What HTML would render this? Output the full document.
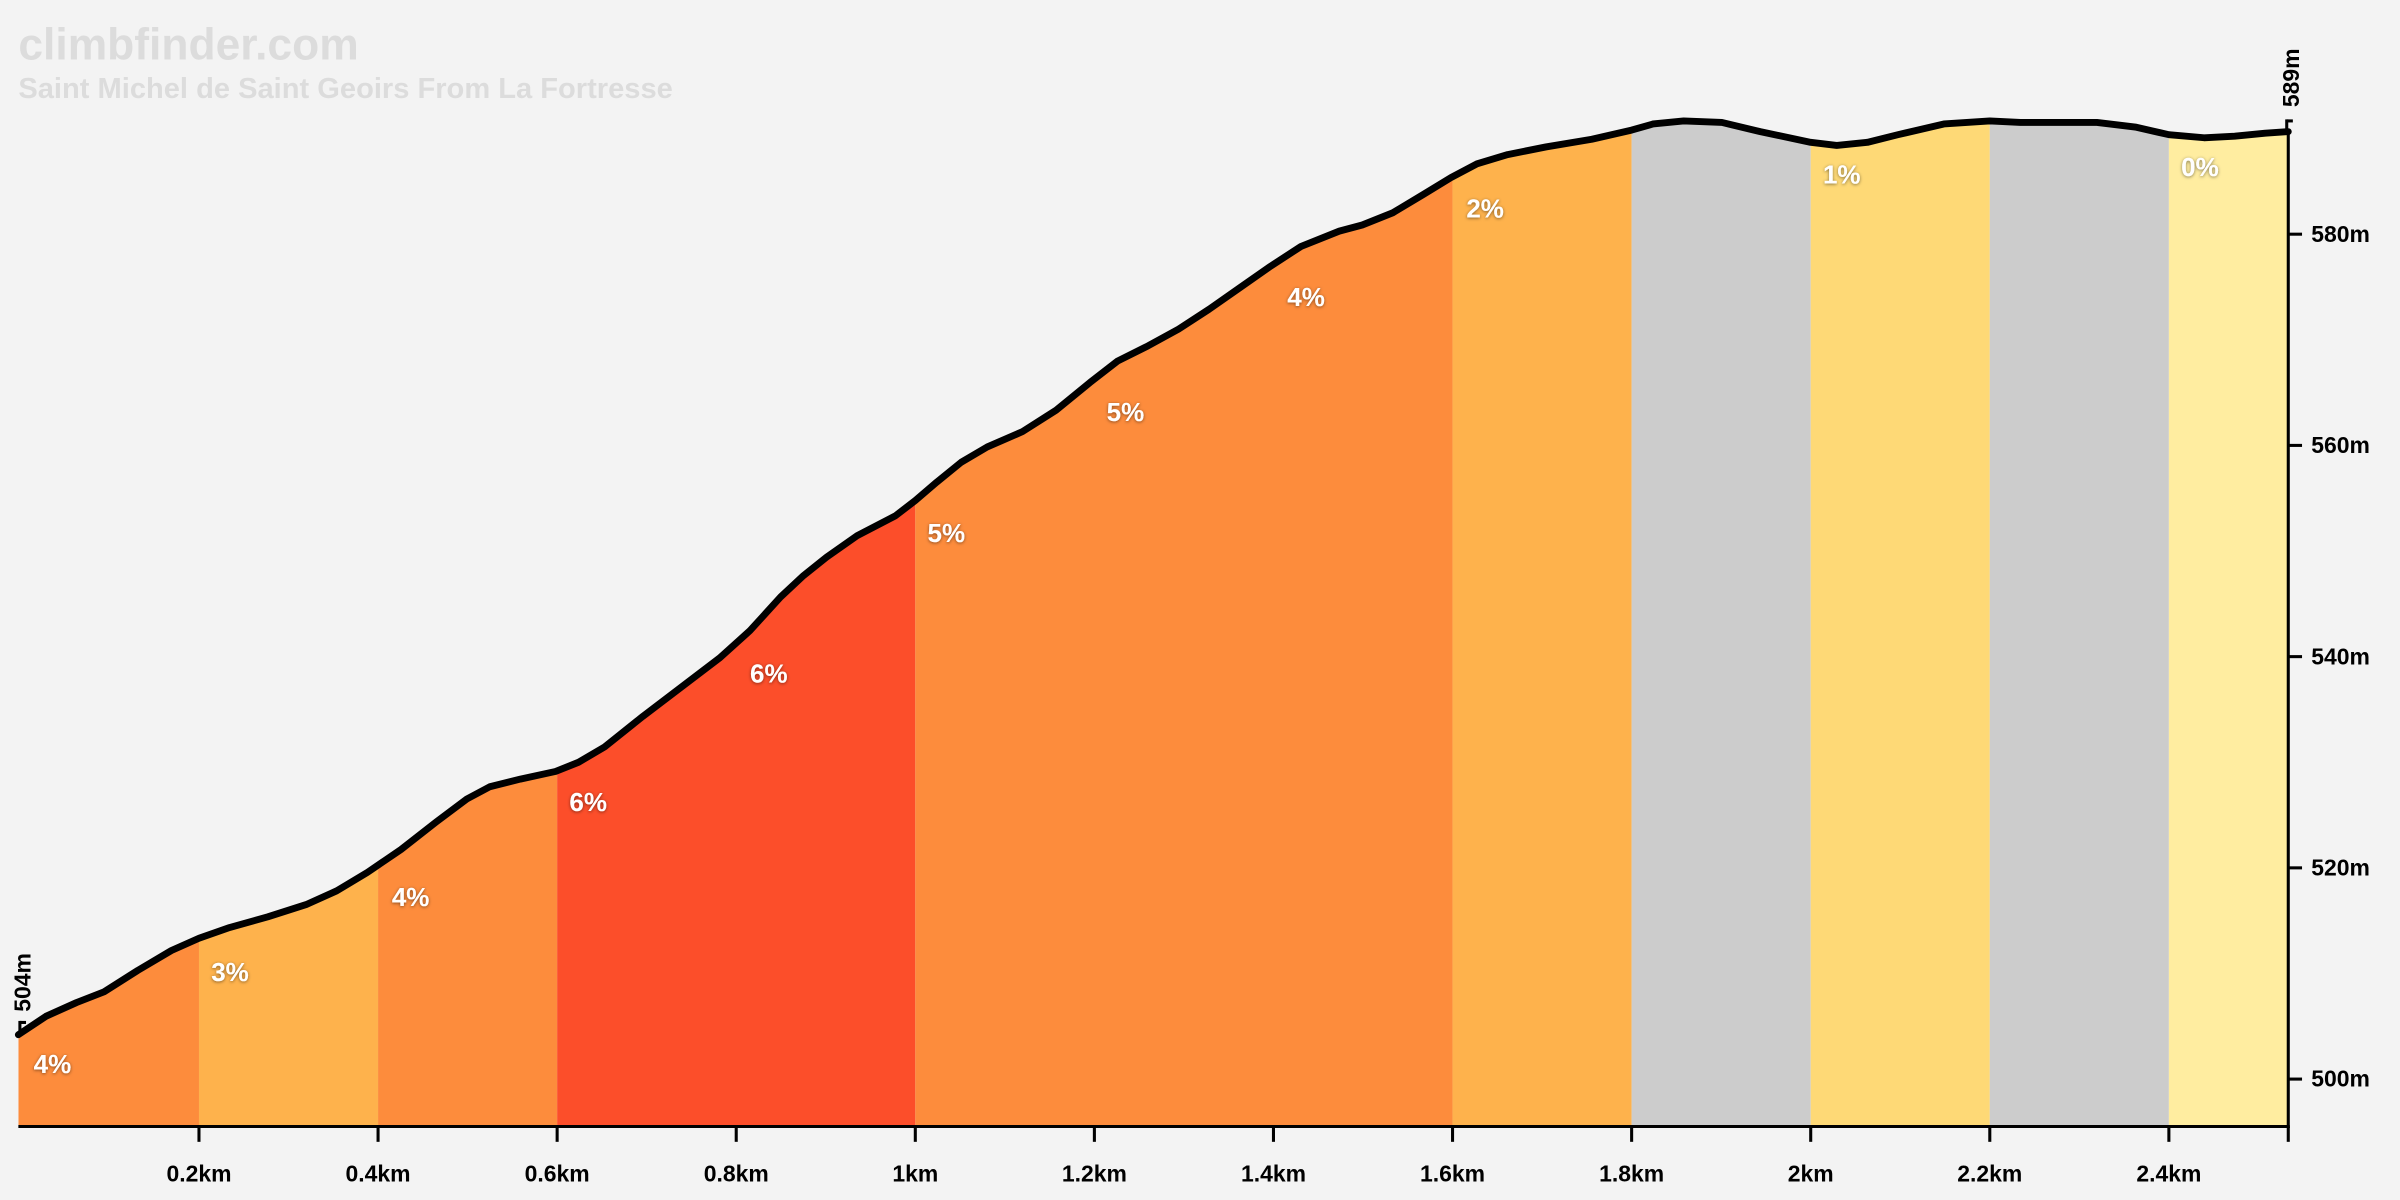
<!DOCTYPE html>
<html><head><meta charset="utf-8"><style>
html,body{margin:0;padding:0;background:#f3f3f3;}
svg{display:block}
text{font-family:"Liberation Sans","DejaVu Sans",sans-serif;font-weight:bold}
.p{fill:#fff;font-size:17px;filter:url(#sh)}
.t{font-size:15px;fill:#000}
</style></head><body>
<svg width="2400" height="1200" viewBox="0 0 1568 784" xmlns="http://www.w3.org/2000/svg">
<defs>
<filter id="sh" x="-20%" y="-20%" width="140%" height="140%"><feDropShadow dx="0" dy="0.5" stdDeviation="1" flood-color="#000" flood-opacity="0.5"/></filter>
<clipPath id="c"><path d="M12,676 L30,664 L50,655 L68,648 L90,634 L112,621 L130,613 L150,606 L175,599 L200,591 L220,582 L240,570 L262,555 L285,537 L305,522 L320,514 L340,509 L363,504 L378,498 L395,488 L420,468 L445,449 L470,430 L490,412 L510,390 L525,376 L540,364 L560,350 L585,337 L598,327 L612,315 L628,302 L645,292 L668,282 L690,268 L712,250 L730,236 L750,226 L770,215 L790,202 L810,188 L830,174 L850,161 L875,151 L890,147 L910,139 L930,127 L948,116 L965,107 L985,101 L1010,96 L1040,91 L1066,85 L1080,81 L1100,79 L1125,80 L1150,86 L1183,93 L1200,95 L1220,93 L1240,88 L1270,81 L1300,79 L1320,80 L1340,80 L1370,80 L1395,83 L1417,88 L1440,90 L1460,89 L1480,87 L1495,86 L1495,736 L12,736 Z"/></clipPath>
</defs>
<rect width="1568" height="784" fill="#f3f3f3"/>
<text x="12" y="39" font-size="29" fill="#dcdcdc">climbfinder.com</text>
<text x="12" y="64" font-size="19" fill="#dcdcdc">Saint Michel de Saint Geoirs From La Fortresse</text>
<g clip-path="url(#c)">
<rect x="12" y="0" width="118" height="736" fill="#fd8c3c"/>
<rect x="130" y="0" width="117" height="736" fill="#feb24c"/>
<rect x="247" y="0" width="117" height="736" fill="#fd8c3c"/>
<rect x="364" y="0" width="234" height="736" fill="#fc4e2a"/>
<rect x="598" y="0" width="351" height="736" fill="#fd8c3c"/>
<rect x="949" y="0" width="117" height="736" fill="#feb24c"/>
<rect x="1066" y="0" width="117" height="736" fill="#cccccc"/>
<rect x="1183" y="0" width="117" height="736" fill="#fed976"/>
<rect x="1300" y="0" width="117" height="736" fill="#cccccc"/>
<rect x="1417" y="0" width="78" height="736" fill="#ffeda0"/>
</g>
<path d="M12,676 L30,664 L50,655 L68,648 L90,634 L112,621 L130,613 L150,606 L175,599 L200,591 L220,582 L240,570 L262,555 L285,537 L305,522 L320,514 L340,509 L363,504 L378,498 L395,488 L420,468 L445,449 L470,430 L490,412 L510,390 L525,376 L540,364 L560,350 L585,337 L598,327 L612,315 L628,302 L645,292 L668,282 L690,268 L712,250 L730,236 L750,226 L770,215 L790,202 L810,188 L830,174 L850,161 L875,151 L890,147 L910,139 L930,127 L948,116 L965,107 L985,101 L1010,96 L1040,91 L1066,85 L1080,81 L1100,79 L1125,80 L1150,86 L1183,93 L1200,95 L1220,93 L1240,88 L1270,81 L1300,79 L1320,80 L1340,80 L1370,80 L1395,83 L1417,88 L1440,90 L1460,89 L1480,87 L1495,86" fill="none" stroke="#000" stroke-width="4.5" stroke-linejoin="round" stroke-linecap="round"/>
<text class="p" x="22" y="701">4%</text>
<text class="p" x="138" y="641">3%</text>
<text class="p" x="256" y="592">4%</text>
<text class="p" x="372" y="530">6%</text>
<text class="p" x="490" y="446">6%</text>
<text class="p" x="606" y="354">5%</text>
<text class="p" x="723" y="275">5%</text>
<text class="p" x="841" y="200">4%</text>
<text class="p" x="958" y="142">2%</text>
<text class="p" x="1191" y="120">1%</text>
<text class="p" x="1425" y="115">0%</text>
<g stroke="#000" stroke-width="2">
<line x1="12" y1="736" x2="1496" y2="736"/>
<line x1="1495" y1="84" x2="1495" y2="737"/>
<line x1="130" y1="736" x2="130" y2="746"/><line x1="247" y1="736" x2="247" y2="746"/><line x1="364" y1="736" x2="364" y2="746"/><line x1="481" y1="736" x2="481" y2="746"/><line x1="598" y1="736" x2="598" y2="746"/><line x1="715" y1="736" x2="715" y2="746"/><line x1="832" y1="736" x2="832" y2="746"/><line x1="949" y1="736" x2="949" y2="746"/><line x1="1066" y1="736" x2="1066" y2="746"/><line x1="1183" y1="736" x2="1183" y2="746"/><line x1="1300" y1="736" x2="1300" y2="746"/><line x1="1417" y1="736" x2="1417" y2="746"/><line x1="1495" y1="736" x2="1495" y2="746"/>
<line x1="1495" y1="705" x2="1504" y2="705"/><line x1="1495" y1="567" x2="1504" y2="567"/><line x1="1495" y1="429" x2="1504" y2="429"/><line x1="1495" y1="291" x2="1504" y2="291"/><line x1="1495" y1="153" x2="1504" y2="153"/>
<line x1="13" y1="667" x2="13" y2="677"/><line x1="13" y1="668" x2="17" y2="668"/>
<line x1="1494" y1="78" x2="1494" y2="88"/><line x1="1494" y1="79" x2="1498" y2="79"/>
</g>
<g text-anchor="middle">
<text class="t" x="130" y="772">0.2km</text><text class="t" x="247" y="772">0.4km</text><text class="t" x="364" y="772">0.6km</text><text class="t" x="481" y="772">0.8km</text><text class="t" x="598" y="772">1km</text><text class="t" x="715" y="772">1.2km</text><text class="t" x="832" y="772">1.4km</text><text class="t" x="949" y="772">1.6km</text><text class="t" x="1066" y="772">1.8km</text><text class="t" x="1183" y="772">2km</text><text class="t" x="1300" y="772">2.2km</text><text class="t" x="1417" y="772">2.4km</text>
</g>
<text class="t" x="1510" y="710">500m</text><text class="t" x="1510" y="572">520m</text><text class="t" x="1510" y="434">540m</text><text class="t" x="1510" y="296">560m</text><text class="t" x="1510" y="158">580m</text>
<text class="t" transform="translate(20,661) rotate(-90)">504m</text>
<text class="t" transform="translate(1502,70) rotate(-90)">589m</text>
</svg>
</body></html>
